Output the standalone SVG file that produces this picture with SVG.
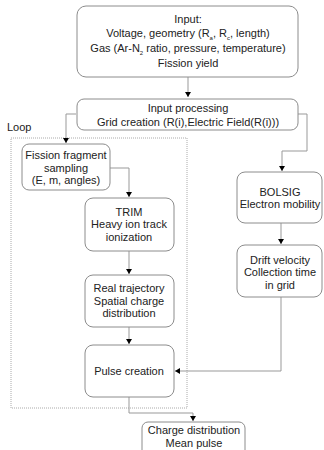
<svg xmlns="http://www.w3.org/2000/svg" width="324" height="450" viewBox="0 0 324 450">
<defs>
<marker id="ah" markerWidth="6" markerHeight="6" refX="5" refY="3" orient="auto" markerUnits="userSpaceOnUse">
<path d="M0,0 L5,3 L0,6 z" fill="#000"/>
</marker>
<style>
.box{fill:#fff;stroke:#8c8c8c;stroke-width:1}
.t{font-family:"Liberation Sans",Arial,sans-serif;font-size:11px;fill:#222;text-anchor:middle}
.c{fill:none;stroke:#999;stroke-width:1}
.sub{font-size:6px}
</style>
</defs>
<rect width="324" height="450" fill="#fff"/>
<g id="loop">
<rect x="11" y="138" width="176" height="270" fill="none" stroke="#aaa" stroke-width="1" stroke-dasharray="1,1"/>
<text x="7" y="131" class="t" style="text-anchor:start">Loop</text>
</g>
<g id="connectors">
<path class="c" d="M188,77 V97" marker-end="url(#ah)"/>
<path class="c" d="M76,114 H66 V143" marker-end="url(#ah)"/>
<path class="c" d="M298,114 H307 V151 H282 V171" marker-end="url(#ah)"/>
<path class="c" d="M110,168 H129 V197" marker-end="url(#ah)"/>
<path class="c" d="M129,251 V274" marker-end="url(#ah)"/>
<path class="c" d="M129,327 V344" marker-end="url(#ah)"/>
<path class="c" d="M281,223 V244" marker-end="url(#ah)"/>
<path class="c" d="M281,297 V371 H175" marker-end="url(#ah)"/>
<path class="c" d="M129,397 V413 H193 V421" marker-end="url(#ah)"/>
</g>
<g id="input">
<rect class="box" x="77" y="6" width="221" height="71" rx="9"/>
<text class="t" x="188" y="23">Input:</text>
<text class="t" x="188" y="37">Voltage, geometry (R<tspan class="sub" dy="3">a</tspan><tspan dy="-3">, R</tspan><tspan class="sub" dy="3">c</tspan><tspan dy="-3">, length)</tspan></text>
<text class="t" x="188" y="52">Gas (Ar-N<tspan class="sub" dy="3">2</tspan><tspan dy="-3"> ratio, pressure, temperature)</tspan></text>
<text class="t" x="188" y="67">Fission yield</text>
</g>
<g id="processing">
<rect class="box" x="77" y="99" width="221" height="31" rx="7"/>
<text class="t" x="188" y="112">Input processing</text>
<text class="t" x="188" y="126">Grid creation (R(i),Electric Field(R(i)))</text>
</g>
<g id="fission">
<rect class="box" x="22" y="144" width="88" height="46" rx="7"/>
<text class="t" x="66" y="159">Fission fragment</text>
<text class="t" x="66" y="172">sampling</text>
<text class="t" x="66" y="184">(E, m, angles)</text>
</g>
<g id="trim">
<rect class="box" x="85" y="198" width="89" height="53" rx="8"/>
<text class="t" x="129" y="216">TRIM</text>
<text class="t" x="129" y="228">Heavy ion track</text>
<text class="t" x="129" y="241">ionization</text>
</g>
<g id="real">
<rect class="box" x="85" y="275" width="89" height="52" rx="8"/>
<text class="t" x="129" y="292">Real trajectory</text>
<text class="t" x="129" y="305">Spatial charge</text>
<text class="t" x="129" y="317">distribution</text>
</g>
<g id="pulse">
<rect class="box" x="85" y="345" width="89" height="52" rx="8"/>
<text class="t" x="129" y="375">Pulse creation</text>
</g>
<g id="bolsig">
<rect class="box" x="237" y="172" width="85" height="51" rx="8"/>
<text class="t" x="280" y="196">BOLSIG</text>
<text class="t" x="280" y="208">Electron mobility</text>
</g>
<g id="drift">
<rect class="box" x="237" y="245" width="85" height="52" rx="8"/>
<text class="t" x="280" y="264">Drift velocity</text>
<text class="t" x="280" y="276">Collection time</text>
<text class="t" x="280" y="289">in grid</text>
</g>
<g id="charge">
<rect class="box" x="142" y="422" width="103" height="34" rx="6"/>
<text class="t" x="194" y="434">Charge distribution</text>
<text class="t" x="194" y="447">Mean pulse</text>
</g>
</svg>
